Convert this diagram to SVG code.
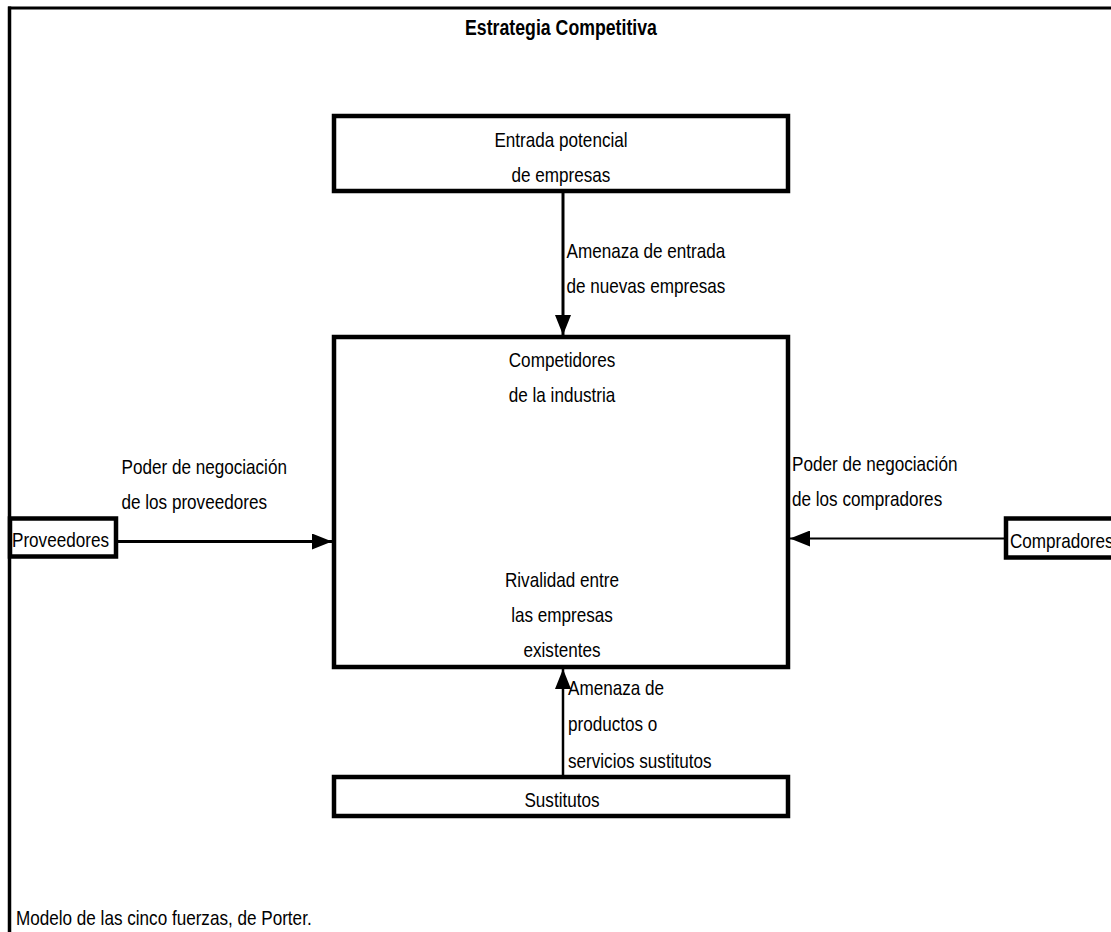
<svg xmlns="http://www.w3.org/2000/svg" width="1111" height="932" viewBox="0 0 1111 932">
<style>
  .box { fill: #ffffff; stroke: #000000; stroke-width: 4.5; }
  .t { font-family: "Liberation Sans", Arial, sans-serif; font-size: 21px; fill: #000000; }
  .c { text-anchor: middle; }
  .title { font-weight: bold; font-size: 22px; }
  .frame { stroke: #000000; fill: none; }
  .conn { stroke: #000000; fill: none; }
</style>
<defs>
  <marker id="arrow" viewBox="0 0 20 16" refX="20" refY="8" markerWidth="20" markerHeight="16" markerUnits="userSpaceOnUse" orient="auto">
    <path d="M0,0 L20,8 L0,16 z" fill="#000000"/>
  </marker>
</defs>
<rect x="0" y="0" width="1111" height="932" fill="#ffffff"/>
<g id="frame">
  <line class="frame" x1="9.5" y1="6.5" x2="9.5" y2="932" stroke-width="3.5"/>
  <line class="frame" x1="8" y1="8" x2="1111" y2="8" stroke-width="3"/>
</g>
<text class="t c title" transform="translate(561,35) scale(0.805,1)">Estrategia Competitiva</text>

<g id="connectors">
  <line class="conn" x1="563" y1="190" x2="563" y2="335" stroke-width="3" marker-end="url(#arrow)"/>
  <line class="conn" x1="563" y1="775" x2="563" y2="669" stroke-width="2.5" marker-end="url(#arrow)"/>
  <line class="conn" x1="118" y1="541.5" x2="332" y2="541.5" stroke-width="3" marker-end="url(#arrow)"/>
  <line class="conn" x1="1004" y1="538.5" x2="790" y2="538.5" stroke-width="2" marker-end="url(#arrow)"/>
  <text class="t" transform="translate(566.5,258) scale(0.815,1)"><tspan x="0" y="0">Amenaza de entrada</tspan><tspan x="0" y="35">de nuevas empresas</tspan></text>
  <text class="t" transform="translate(121.5,474) scale(0.815,1)"><tspan x="0" y="0">Poder de negociación</tspan><tspan x="0" y="35">de los proveedores</tspan></text>
  <text class="t" transform="translate(792,471) scale(0.815,1)"><tspan x="0" y="0">Poder de negociación</tspan><tspan x="0" y="35">de los compradores</tspan></text>
  <text class="t" transform="translate(568,695) scale(0.815,1)"><tspan x="0" y="0">Amenaza de</tspan><tspan x="0" y="36.5">productos o</tspan><tspan x="0" y="73">servicios sustitutos</tspan></text>
</g>

<g id="entrada">
  <rect class="box" x="334" y="116" width="454" height="75"/>
  <text class="t c" transform="translate(561,147) scale(0.815,1)"><tspan x="0" y="0">Entrada potencial</tspan><tspan x="0" y="35">de empresas</tspan></text>
</g>

<g id="competidores">
  <rect class="box" x="334" y="337" width="454" height="330"/>
  <text class="t c" transform="translate(562,367) scale(0.815,1)"><tspan x="0" y="0">Competidores</tspan><tspan x="0" y="35">de la industria</tspan></text>
  <text class="t c" transform="translate(562,587) scale(0.815,1)"><tspan x="0" y="0">Rivalidad entre</tspan><tspan x="0" y="35">las empresas</tspan><tspan x="0" y="70">existentes</tspan></text>
</g>

<g id="proveedores">
  <rect class="box" x="10" y="518.5" width="106" height="38"/>
  <text class="t" transform="translate(12,547) scale(0.815,1)">Proveedores</text>
</g>

<g id="compradores">
  <rect class="box" x="1006" y="518.5" width="112" height="39"/>
  <text class="t" transform="translate(1010,548) scale(0.815,1)">Compradores</text>
</g>

<g id="sustitutos">
  <rect class="box" x="334" y="777" width="454" height="39"/>
  <text class="t c" transform="translate(562,807) scale(0.815,1)">Sustitutos</text>
</g>

<text class="t" transform="translate(16,925) scale(0.815,1)">Modelo de las cinco fuerzas, de Porter.</text>
</svg>
